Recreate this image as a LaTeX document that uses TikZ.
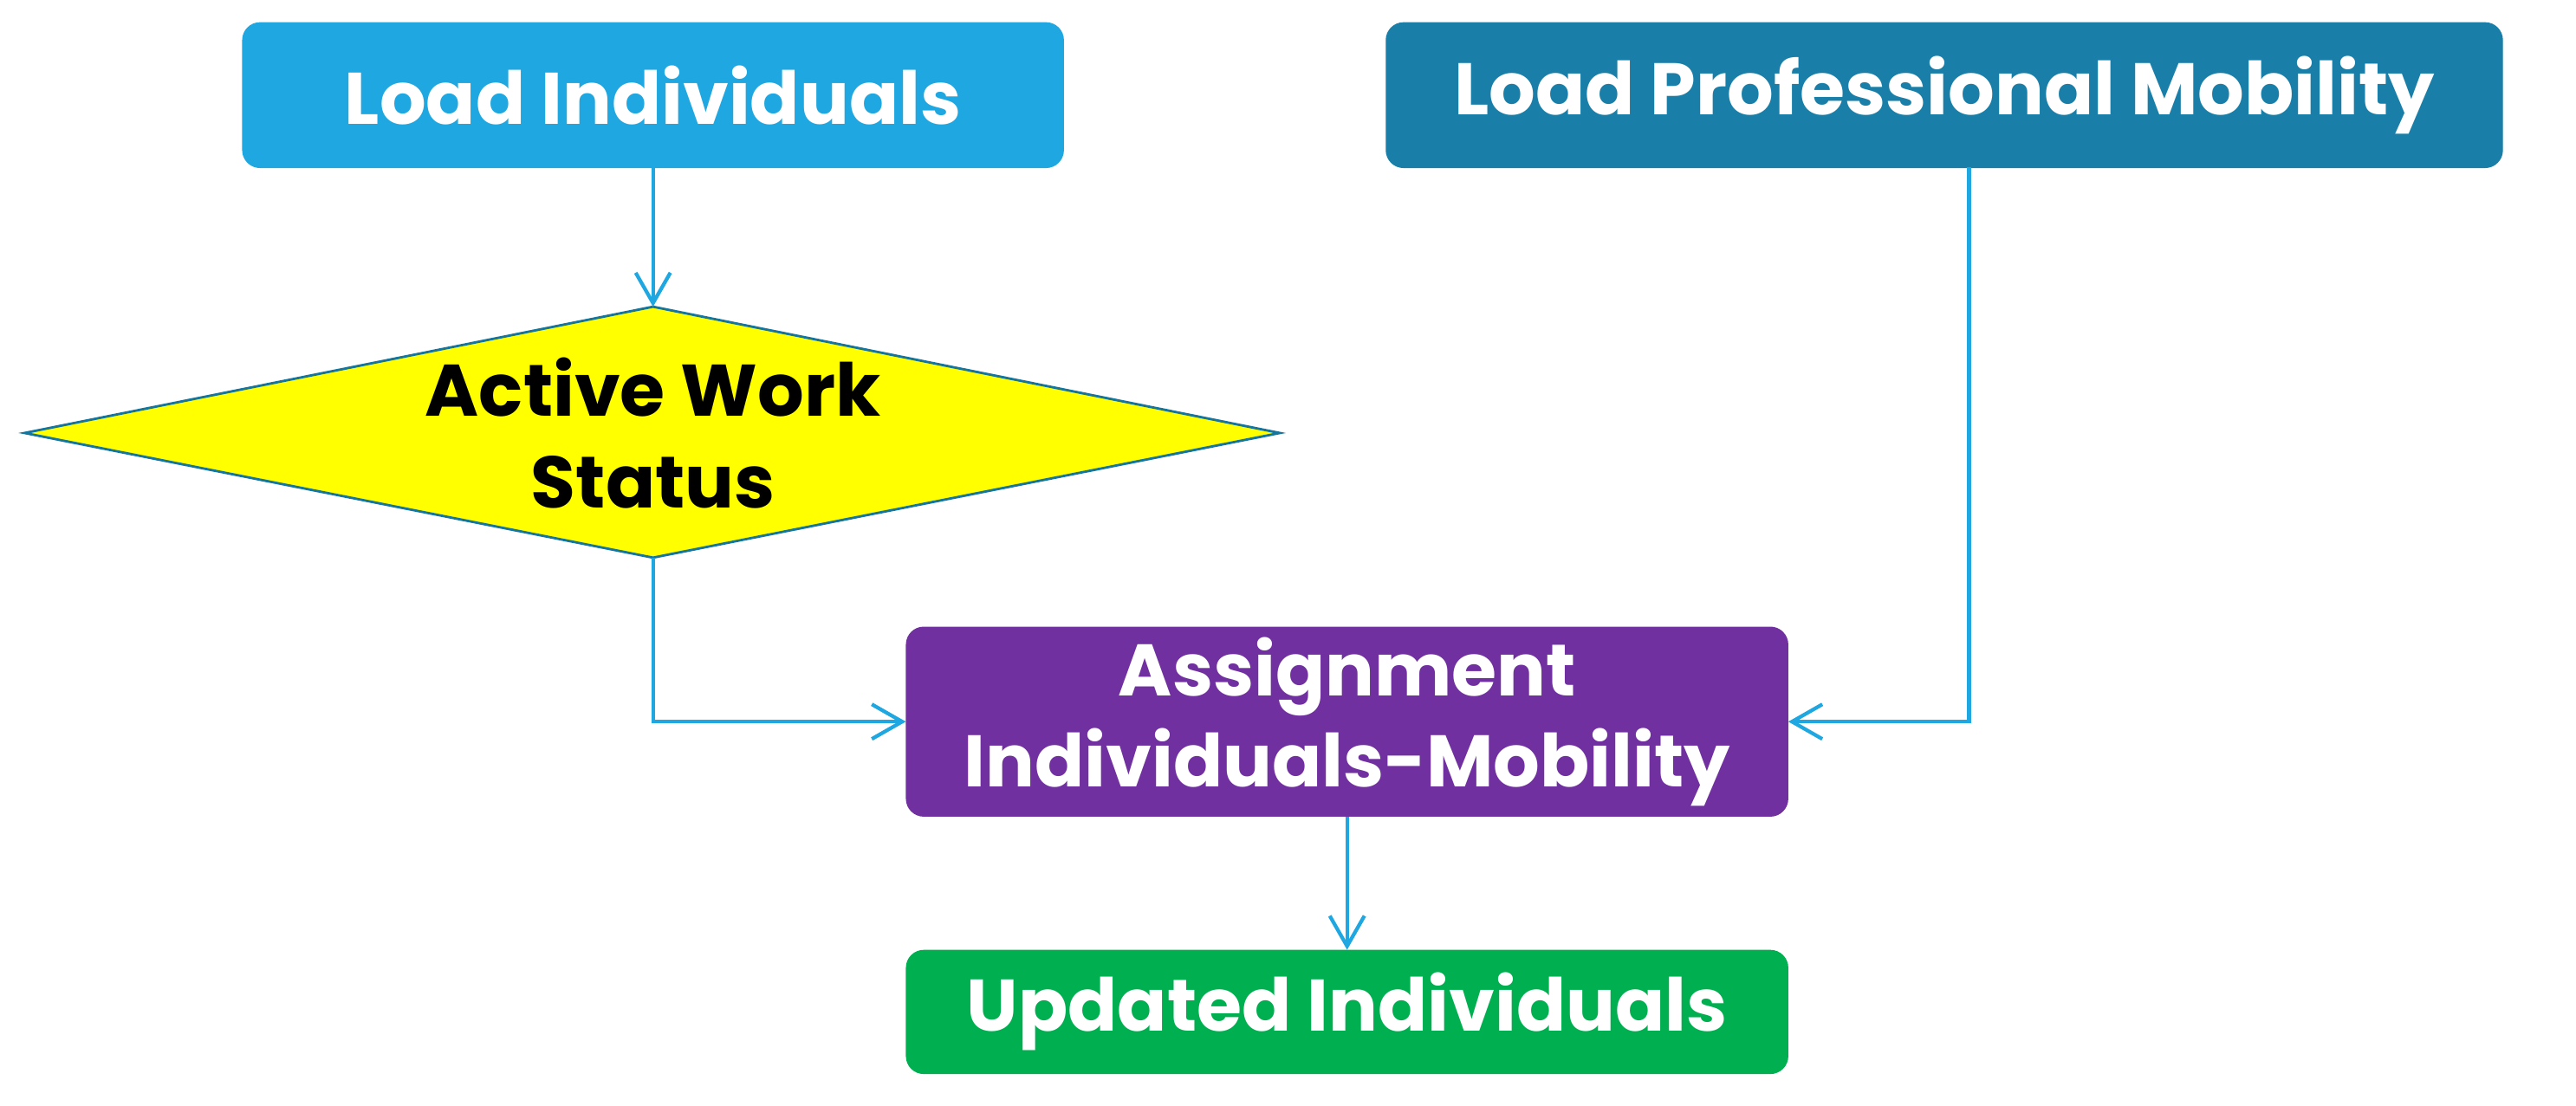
\documentclass[tikz,border=0pt]{standalone}
\usepackage{fontspec}
\setmainfont{Poppins}
\usetikzlibrary{arrows.meta}
\definecolor{cblue}{HTML}{1EA7E0}
\definecolor{dblue}{HTML}{1A7FA8}
\definecolor{cpurp}{HTML}{7030A0}
\definecolor{cgreen}{HTML}{00B050}
\definecolor{cyel}{HTML}{FFFF00}
\tikzset{
 box/.style={rounded corners=0.2cm, draw=#1, fill=#1, text=white, font=\fontsize{24}{30}\selectfont\bfseries, align=center, inner sep=0pt},
 conn/.style={draw=cblue, line width=1.2pt, -{Straight Barb[length=0.35cm,width=0.4cm]}}
}
\begin{document}
\begin{tikzpicture}[x=0.01894cm,y=-0.01894cm]
\useasboundingbox (0,0) rectangle (1570,674);
\node[box=cblue, minimum width=9.47cm, minimum height=1.67cm] (li) at (398,58) {Load Individuals};
\node[box=dblue, minimum width=12.88cm, minimum height=1.67cm] (lpm) at (1185,58) {Load Professional Mobility};
\draw[draw=cblue!70!black, fill=cyel, line width=0.8pt] (398,187) -- (780,264) -- (398,340) -- (15,264) -- cycle;
\coordinate (dt) at (398,187);
\coordinate (db) at (398,340);
\node[font=\fontsize{24}{30}\selectfont\bfseries, align=center, text=black] (act) at (398,264) {Active Work\\Status};
\node[box=cpurp, minimum width=10.17cm, minimum height=2.18cm] (asg) at (821,440) {Assignment\\Individuals-Mobility};
\node[box=cgreen, minimum width=10.17cm, minimum height=1.42cm] (upd) at (821,617) {Updated Individuals};
\coordinate (lpmb) at (1200,102);
\draw[conn] (li.south) -- (dt);
\draw[conn] (db) |- (asg.west);
\draw[conn] (lpmb) |- (asg.east);
\draw[conn] (asg.south) -- (upd.north);
\end{tikzpicture}
\end{document}
